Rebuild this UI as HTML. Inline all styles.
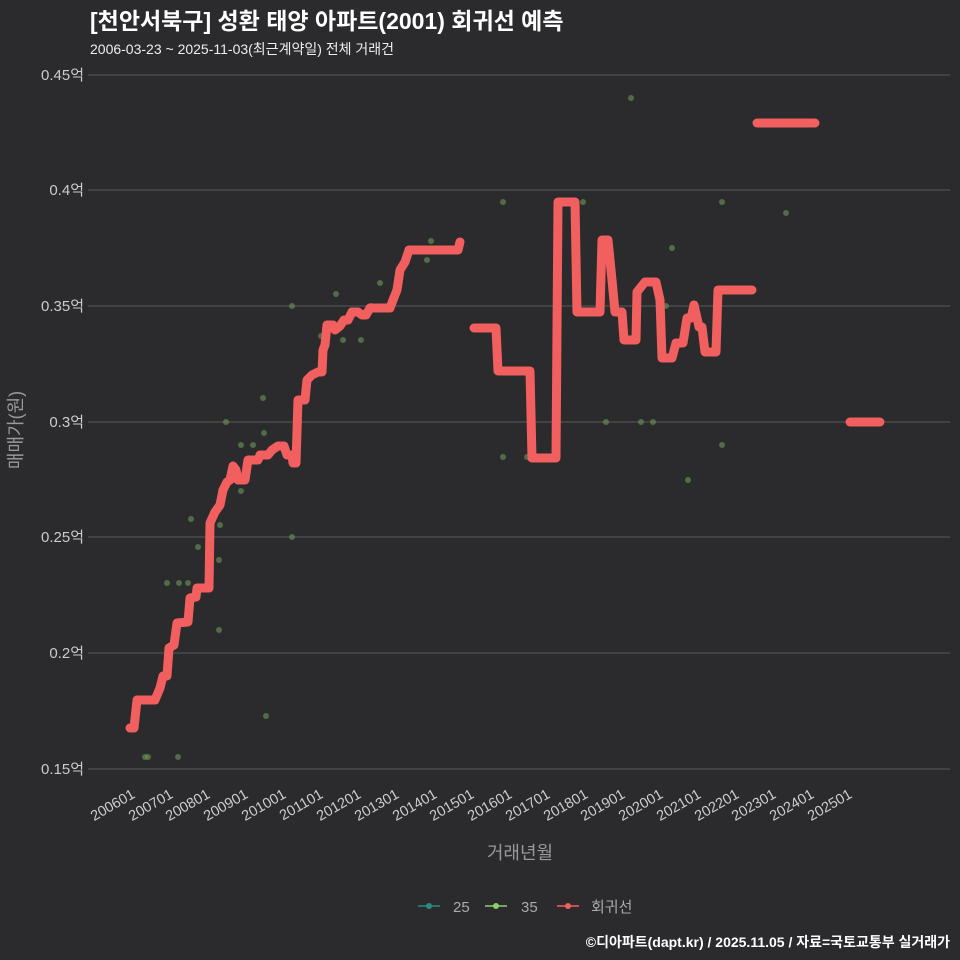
<!DOCTYPE html>
<html><head><meta charset="utf-8"><style>
html,body{margin:0;padding:0;width:960px;height:960px;overflow:hidden;background:#2b2a2c;}
svg{display:block;}
svg text{font-family:"Liberation Sans","Noto Sans CJK KR",sans-serif;}
</style></head><body>
<svg width="960" height="960" xmlns="http://www.w3.org/2000/svg">
<rect width="960" height="960" fill="#2b2a2c"/>
<text x="90" y="29" fill="#fff" font-size="23" font-weight="bold">[천안서북구] 성환 태양 아파트(2001) 회귀선 예측</text>
<text x="90" y="54" fill="#eee" font-size="14">2006-03-23 ~ 2025-11-03(최근계약일) 전체 거래건</text>
<g stroke="#5a5a5a" stroke-width="1">
<line x1="88" x2="950" y1="75" y2="75"/><line x1="88" x2="950" y1="190" y2="190"/>
<line x1="88" x2="950" y1="306" y2="306"/><line x1="88" x2="950" y1="422" y2="422"/>
<line x1="88" x2="950" y1="537" y2="537"/><line x1="88" x2="950" y1="653" y2="653"/>
<line x1="88" x2="950" y1="769" y2="769"/>
</g>
<g fill="#ccc" font-size="15" text-anchor="end">
<text x="84" y="80">0.45억</text><text x="84" y="195">0.4억</text><text x="84" y="311">0.35억</text>
<text x="84" y="427">0.3억</text><text x="84" y="542">0.25억</text><text x="84" y="658">0.2억</text><text x="84" y="774">0.15억</text>
</g>
<g fill="#ccc" font-size="14.5" text-anchor="end">
<text transform="translate(136,797) rotate(-30)">200601</text>
<text transform="translate(174,797) rotate(-30)">200701</text>
<text transform="translate(211,797) rotate(-30)">200801</text>
<text transform="translate(249,797) rotate(-30)">200901</text>
<text transform="translate(287,797) rotate(-30)">201001</text>
<text transform="translate(324,797) rotate(-30)">201101</text>
<text transform="translate(362,797) rotate(-30)">201201</text>
<text transform="translate(400,797) rotate(-30)">201301</text>
<text transform="translate(438,797) rotate(-30)">201401</text>
<text transform="translate(475,797) rotate(-30)">201501</text>
<text transform="translate(513,797) rotate(-30)">201601</text>
<text transform="translate(551,797) rotate(-30)">201701</text>
<text transform="translate(589,797) rotate(-30)">201801</text>
<text transform="translate(626,797) rotate(-30)">201901</text>
<text transform="translate(664,797) rotate(-30)">202001</text>
<text transform="translate(702,797) rotate(-30)">202101</text>
<text transform="translate(740,797) rotate(-30)">202201</text>
<text transform="translate(777,797) rotate(-30)">202301</text>
<text transform="translate(815,797) rotate(-30)">202401</text>
<text transform="translate(853,797) rotate(-30)">202501</text>
</g>
<text x="520" y="859" fill="#999" font-size="18" text-anchor="middle">거래년월</text>
<text transform="translate(22,430) rotate(-90)" fill="#999" font-size="18" text-anchor="middle">매매가(원)</text>
<g fill="#6a9a5a" fill-opacity="0.6">
<circle cx="145" cy="757" r="3"/><circle cx="148" cy="757" r="3"/><circle cx="178" cy="757" r="3"/>
<circle cx="167" cy="583" r="3"/><circle cx="179" cy="583" r="3"/><circle cx="188" cy="583" r="3"/>
<circle cx="191" cy="519" r="3"/><circle cx="198" cy="547" r="3"/><circle cx="219" cy="630" r="3"/>
<circle cx="219" cy="560" r="3"/><circle cx="220" cy="525" r="3"/><circle cx="226" cy="422" r="3"/>
<circle cx="241" cy="445" r="3"/><circle cx="241" cy="491" r="3"/><circle cx="253" cy="445" r="3"/>
<circle cx="263" cy="398" r="3"/><circle cx="264" cy="433" r="3"/><circle cx="266" cy="716" r="3"/>
<circle cx="292" cy="306" r="3"/><circle cx="292" cy="537" r="3"/><circle cx="321" cy="336" r="3"/>
<circle cx="336" cy="294" r="3"/><circle cx="343" cy="340" r="3"/><circle cx="361" cy="340" r="3"/>
<circle cx="371" cy="306" r="3"/><circle cx="380" cy="283" r="3"/><circle cx="427" cy="260" r="3"/>
<circle cx="431" cy="241" r="3"/><circle cx="503" cy="202" r="3"/><circle cx="503" cy="457" r="3"/>
<circle cx="527" cy="457" r="3"/><circle cx="583" cy="202" r="3"/><circle cx="606" cy="422" r="3"/>
<circle cx="631" cy="98" r="3"/><circle cx="641" cy="422" r="3"/><circle cx="653" cy="422" r="3"/>
<circle cx="666" cy="306" r="3"/><circle cx="672" cy="248" r="3"/><circle cx="688" cy="480" r="3"/>
<circle cx="722" cy="445" r="3"/><circle cx="722" cy="202" r="3"/><circle cx="786" cy="213" r="3"/>
</g>
<g fill="none" stroke="#f25f5f" stroke-width="9" stroke-linejoin="round" stroke-linecap="round">
<polyline points="130,728 134,728 137,700 155,700 160,688 163,676 167,676 169,648 174,645 177,623 188,622 190,598 196,597 197,588 209,588 210,523 215,512 220,505 223,490 227,482 230,480 233,466 236,470 238,480 245,480 248,460 258,460 260,455 268,455 272,450 278,446 284,446 287,455 292,455 293,463 296,463 298,400 305,400 307,380 312,375 318,372 322,372 323,350 325,345 327,325 333,325 335,330 340,326 344,320 348,320 352,312 358,312 362,315 366,315 370,308 390,308 393,300 397,290 400,270 405,262 409,250 458,250 460,242"/>
<polyline points="474,328 496,328 498,371 530,371 532,458 556,458 558,202 575,202 577,312 600,312 602,240 608,240 612,280 615,312 622,312 624,340 636,340 637,292 645,282 656,282 660,300 662,358 672,358 676,343 683,343 687,318 691,318 694,305 699,327 702,327 705,352 716,352 718,290 752,290"/>
<polyline points="757,123 815,123"/>
<polyline points="850,422 880,422"/>
</g>
<g font-size="15" fill="#aaa">
<line x1="418" x2="440" y1="906" y2="906" stroke="#2a8a8a" stroke-width="1.5"/><circle cx="429" cy="906" r="3" fill="#2a8a8a"/>
<text x="453" y="912">25</text>
<line x1="485" x2="507" y1="906" y2="906" stroke="#8ad06a" stroke-width="1.5"/><circle cx="496" cy="906" r="3" fill="#8ad06a"/>
<text x="521" y="912">35</text>
<line x1="557" x2="579" y1="906" y2="906" stroke="#f25f5f" stroke-width="1.5"/><circle cx="568" cy="906" r="3" fill="#f25f5f"/>
<text x="591" y="912">회귀선</text>
</g>
<text x="950" y="947" fill="#fff" font-size="14" font-weight="bold" text-anchor="end">©디아파트(dapt.kr) / 2025.11.05 / 자료=국토교통부 실거래가</text>
</svg>
</body></html>
